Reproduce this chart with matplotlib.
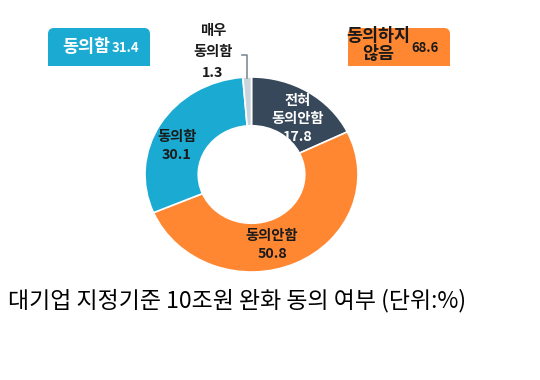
import matplotlib
matplotlib.use("Agg")
import matplotlib.pyplot as plt
from matplotlib.patches import FancyBboxPatch, Rectangle

plt.rcParams['font.family'] = ['Noto Sans CJK KR', 'DejaVu Sans']

categories = ['전혀\n동의안함', '동의안함', '동의함', '매우\n동의함']
values = [17.8, 50.8, 30.1, 1.3]
colors = ['#37485A', '#FF8732', '#1BABD2', '#C9D4DD']
label_colors = ['white', '#1a1a1a', '#1a1a1a', '#1a1a1a']
agree_label = '동의함'
agree_total = 31.4
disagree_label = '동의하지\n않음'
disagree_total = 68.6
title = '대기업 지정기준 10조원 완화 동의 여부 (단위:%)'

W, H = 540, 380
fig = plt.figure(figsize=(W / 100, H / 100), dpi=100)
fig.patch.set_facecolor('white')

def fx(px):
    return px / W

def fy(py):
    return 1 - py / H

# donut axes (slightly wider than tall, like the reference)
cx, cy, rx, ry = 251.5, 174.5, 106.5, 97.5
ax = fig.add_axes([fx(cx - rx), fy(cy + ry), 2 * rx / W, 2 * ry / H])
wedges, _ = ax.pie(values, colors=colors, startangle=90, counterclock=False,
                   radius=1.0, wedgeprops=dict(width=0.5, edgecolor='white', linewidth=1.2))
ax.set_aspect('auto')
ax.set_xlim(-1, 1)
ax.set_ylim(-1, 1)
ax.axis('off')

# labels inside ring
def label_at(px, py, txt, color, size=10.3, ls=1.4):
    fig.text(fx(px), fy(py), txt, ha='center', va='center', color=color,
             fontsize=size, fontweight='bold', linespacing=ls, zorder=5)

label_at(298, 119, categories[0] + '\n' + f'{values[0]}', label_colors[0])
label_at(272, 245, categories[1] + '\n' + f'{values[1]}', label_colors[1])
label_at(177, 146, categories[2] + '\n' + f'{values[2]}', label_colors[2])
label_at(213, 52, categories[3] + '\n' + f'{values[3]}', label_colors[3], ls=1.65)

# leader line for small slice
fig.add_artist(plt.Line2D([fx(242), fx(247), fx(247)], [fy(55), fy(55), fy(78)],
                          color='#7f8c96', linewidth=1.2))

# summary boxes
def box(x0, y0, x1, y1, color):
    r = 6
    p = FancyBboxPatch((fx(x0), fy(y1)), fx(x1 - x0), (y1 - y0) / H,
                       boxstyle=f'round,pad=0,rounding_size={r / W}',
                       transform=fig.transFigure, facecolor=color, edgecolor='none',
                       mutation_aspect=W / H)
    fig.add_artist(p)
    fig.add_artist(Rectangle((fx(x0), fy(y1)), fx(x1 - x0), (y1 - y0) / 2 / H,
                             transform=fig.transFigure, facecolor=color, edgecolor='none'))

box(48, 28, 150, 66, '#1BABD2')
fig.text(fx(86), fy(47), agree_label, ha='center', va='center', color='white',
         fontsize=12.5, fontweight='bold')
fig.text(fx(125), fy(48), f'{agree_total}', ha='center', va='center', color='white',
         fontsize=9.5, fontweight='bold')

box(348, 28, 450, 66, '#FF8732')
fig.text(fx(378), fy(45), disagree_label, ha='center', va='center', color='#1a1a1a',
         fontsize=12.5, fontweight='bold', linespacing=1.0)
fig.text(fx(425), fy(48), f'{disagree_total}', ha='center', va='center', color='#1a1a1a',
         fontsize=9.5, fontweight='bold')

fig.text(fx(8), fy(301), title, ha='left', va='center', color='black', fontsize=16.5)

fig.savefig('out.png', dpi=100, facecolor='white')
